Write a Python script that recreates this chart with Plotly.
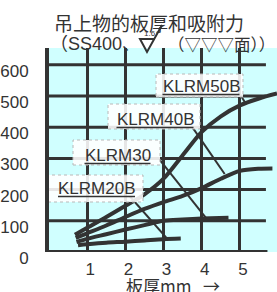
import plotly.graph_objects as go

# ---- data ----
x50 = [0.68, 1.0, 1.5, 2.0, 2.5, 3.0, 3.5, 4.0, 4.5, 5.0, 5.5, 5.97]
y50 = [55, 78, 112, 148, 185, 235, 310, 385, 435, 470, 492, 508]

x40 = [0.70, 1.0, 1.5, 2.0, 2.5, 3.0, 3.5, 4.0, 4.5, 5.0, 5.5, 5.85]
y40 = [45, 60, 85, 112, 138, 160, 180, 205, 235, 260, 267, 268]

x30 = [0.72, 1.0, 1.5, 2.0, 2.5, 3.0, 3.5, 4.0, 4.7]
y30 = [32, 42, 57, 72, 86, 100, 104, 107, 110]

x20 = [0.76, 1.0, 1.5, 2.0, 2.5, 3.0, 3.45]
y20 = [22, 25, 30, 33, 37, 41, 43]

series_names = ["KLRM50B", "KLRM40B", "KLRM30", "KLRM20B"]
x_ticks = [1, 2, 3, 4, 5]
y_ticks = [0, 100, 200, 300, 400, 500, 600]

title_line1 = "吊上物的板厚和吸附力"
title_line2a = "（SS400、"
title_line2b = "（▽▽▽面））"
rough_value = "1.6"
x_title = "板厚mm   →"

INK = "#333333"
FONT = "Liberation Sans, Arial, Noto Sans CJK JP, sans-serif"
CJK = "Noto Sans CJK JP, sans-serif"

# pixel geometry of the plot area
L, R, T, B = 49, 277, 48, 252
XMAX, YMAX = 5.97, 654


def dx(p):  # pixel x -> data x
    return (p - L) / (R - L) * XMAX


def dy(p):  # pixel y -> data y
    return (B - p) / (B - T) * YMAX


def px(p):  # pixel x -> paper
    return (p - L) / (R - L)


def py(p):  # pixel y -> paper
    return (B - p) / (B - T)


# label layout in pixels: text centre x, y, text width, box (x0, y0, x1, y1)
label_px = {"KLRM50B": (201, 86, 77, (156, 74, 243, 97)),
            "KLRM40B": (155, 119, 77, (108, 104, 200, 129)),
            "KLRM30": (117.5, 155, 66, (73, 140, 160, 165)),
            "KLRM20B": (96.5, 188, 77, (48, 175, 143, 202))}
pointers = {"KLRM50B": ((5.03, 500), (5.16, 474)),
            "KLRM40B": ((3.77, 397), (4.60, 250)),
            "KLRM30": ((2.90, 295), (4.12, 108)),
            "KLRM20B": ((2.12, 178), (3.10, 42))}

fig = go.Figure()
for xs, ys in [(x50, y50), (x40, y40), (x30, y30), (x20, y20)]:
    fig.add_trace(go.Scatter(x=xs, y=ys, mode="lines",
                             line=dict(color=INK, width=4, shape="spline", smoothing=0.8),
                             hoverinfo="skip", showlegend=False))

shapes = []
for v in y_ticks[1:]:
    shapes.append(dict(type="line", xref="x", yref="y", x0=0, x1=5.68, y0=v, y1=v,
                       line=dict(color=INK, width=3), layer="below"))
shapes.append(dict(type="line", xref="x", yref="y", x0=0, x1=5.72, y0=0, y1=0,
                   line=dict(color=INK, width=4), layer="above"))
for n in series_names:
    (a, b), (c, d) = pointers[n]
    shapes.append(dict(type="line", xref="x", yref="y", x0=a, y0=b, x1=c, y1=d,
                       line=dict(color=INK, width=2), layer="above"))

# roughness symbol in title
shapes.append(dict(type="path", xref="paper", yref="paper",
                   path=f"M {px(155)},{py(39)} L {px(140)},{py(39)} L {px(147)},{py(52)} L {px(162)},{py(25)}",
                   line=dict(color=INK, width=2)))

annotations = []
for n in series_names:
    cx, cy, w, (bx0, by0, bx1, by1) = label_px[n]
    shapes.append(dict(type="rect", xref="x", yref="y", x0=dx(bx0), x1=dx(bx1),
                       y0=dy(by1), y1=dy(by0), fillcolor="rgba(255,255,255,0.88)",
                       line=dict(color="#b8b8b8", width=1, dash="dot"), layer="above"))
    shapes.append(dict(type="line", xref="x", yref="y", x0=dx(cx - w / 2), x1=dx(cx + w / 2),
                       y0=dy(cy + 8.5), y1=dy(cy + 8.5), line=dict(color=INK, width=1.3),
                       layer="above"))
    annotations.append(dict(x=dx(cx), y=dy(cy), xref="x", yref="y", text=n, showarrow=False,
                            font=dict(family=FONT, size=17, color=INK),
                            xanchor="center", yanchor="middle"))

annotations += [
    dict(x=px(149), y=py(22), xref="paper", yref="paper", text=title_line1, showarrow=False,
         font=dict(family=CJK, size=19, color=INK), xanchor="center", yanchor="middle"),
    dict(x=px(48), y=py(44), xref="paper", yref="paper", text=title_line2a, showarrow=False,
         font=dict(family=FONT, size=18, color=INK), xanchor="left", yanchor="middle"),
    dict(x=px(166), y=py(44), xref="paper", yref="paper", text=title_line2b, showarrow=False,
         font=dict(family=CJK, size=16.5, color=INK), xanchor="left", yanchor="middle"),
    dict(x=px(150), y=py(33), xref="paper", yref="paper", text=rough_value, showarrow=False,
         font=dict(family=FONT, size=8, color=INK), xanchor="center", yanchor="middle"),
    dict(x=px(124), y=py(285), xref="paper", yref="paper", text=x_title, showarrow=False,
         font=dict(family=CJK, size=17, color=INK), xanchor="left", yanchor="middle"),
]

fig.update_layout(
    width=277, height=292, autosize=False,
    margin=dict(l=L, r=0, t=T, b=292 - B, pad=0),
    paper_bgcolor="white", plot_bgcolor="#d0ffff",
    shapes=shapes, annotations=annotations,
    xaxis=dict(range=[0, XMAX], tickvals=x_ticks, showgrid=True, gridcolor=INK, gridwidth=3,
               zeroline=False, showline=False, ticks="", ticklabelshift=3, ticklabelstandoff=5,
               tickfont=dict(family=FONT, size=17, color=INK), fixedrange=True, automargin=False),
    yaxis=dict(range=[0, YMAX], tickvals=y_ticks, showgrid=False, zeroline=False,
               showline=True, linecolor=INK, linewidth=4, ticks="", ticklabelshift=6,
               ticklabelstandoff=13, automargin=False,
               tickfont=dict(family=FONT, size=17, color=INK), fixedrange=True),
    showlegend=False,
)

fig.write_html("out.html", config={"displayModeBar": False},
               post_script="document.body.style.margin='0';document.body.style.overflow='hidden';")
